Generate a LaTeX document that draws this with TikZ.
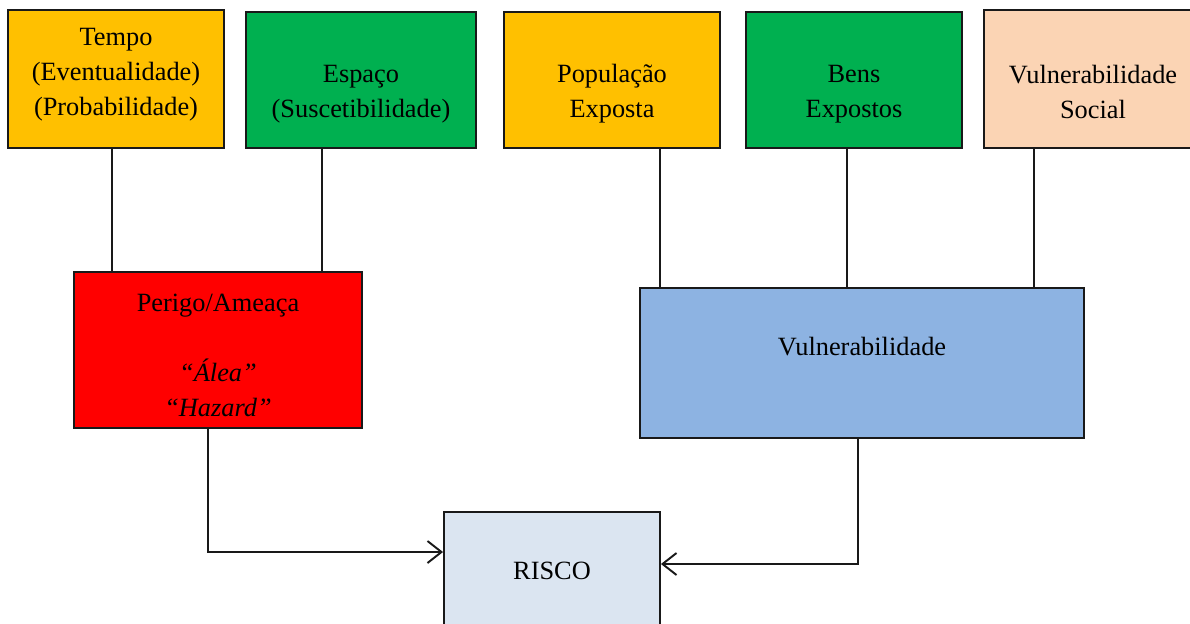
\documentclass[tikz,border=0pt]{standalone}
\usepackage{fontspec}
\setmainfont{Liberation Serif}
\usetikzlibrary{arrows.meta,calc}
\definecolor{ambar}{RGB}{255,192,0}
\definecolor{verde}{RGB}{0,176,80}
\definecolor{pessego}{RGB}{251,212,180}
\definecolor{vermelho}{RGB}{255,0,0}
\definecolor{azul}{RGB}{141,179,226}
\definecolor{azulclaro}{RGB}{219,229,241}
\begin{document}
\begin{tikzpicture}[
    x=0.02cm, y=-0.02cm,
    box/.style={rectangle, draw=black!90, line width=1.1pt, inner sep=0pt},
    txt/.style={align=center, font=\fontsize{15}{19.9}\selectfont, inner sep=0pt},
    liga/.style={draw=black!90, line width=1.1pt},
    seta/.style={liga, -{Straight Barb[length=2.8mm, width=4.4mm, line width=1.1pt]}}
]
    \useasboundingbox (0,0) rectangle (1190,623);

    % Fatores
    \node[box, fill=ambar, minimum width=4.32cm, minimum height=2.76cm] (tempo) at (116,79) {};
    \node[box, fill=verde, minimum width=4.6cm, minimum height=2.72cm] (espaco) at (361,80) {};
    \node[box, fill=ambar, minimum width=4.32cm, minimum height=2.72cm] (populacao) at (612,80) {};
    \node[box, fill=verde, minimum width=4.32cm, minimum height=2.72cm] (bens) at (854,80) {};
    \node[box, fill=pessego, minimum width=4.32cm, minimum height=2.76cm] (social) at (1092,79) {};

    \node[txt] (tempo-txt) at (116,75) {Tempo\\(Eventualidade)\\(Probabilidade)};
    \node[txt] (espaco-txt) at (361,94) {Espaço\\(Suscetibilidade)};
    \node[txt] (populacao-txt) at (612,94) {População\\Exposta};
    \node[txt] (bens-txt) at (854,94) {Bens\\Expostos};
    \node[txt] (social-txt) at (1093,92) {Vulnerabilidade\\Social};

    % Componentes
    \node[box, fill=vermelho, minimum width=5.76cm, minimum height=3.12cm] (perigo) at (218,350) {};
    \node[txt] (perigo-txt) at (218,355) {Perigo/Ameaça\\[19.9pt]\textit{“Álea”}\\\textit{“Hazard”}};
    \node[box, fill=azul, minimum width=8.88cm, minimum height=3cm] (vuln) at (862,363) {};
    \node[txt] (vuln-txt) at (862,347) {Vulnerabilidade};

    % Risco
    \node[box, fill=azulclaro, minimum width=4.32cm, minimum height=2.4cm] (risco) at (552,572) {};
    \node[txt] (risco-txt) at (552,571) {RISCO};

    % Ligacoes
    \draw[liga] ([xshift=-0.08cm]tempo.south) -- ([xshift=-0.08cm]tempo.south |- perigo.north);
    \draw[liga] ([xshift=-0.78cm]espaco.south) -- ([xshift=-0.78cm]espaco.south |- perigo.north);
    \draw[liga] ([xshift=0.96cm]populacao.south) -- ([xshift=0.96cm]populacao.south |- vuln.north);
    \draw[liga] ([xshift=-0.14cm]bens.south) -- ([xshift=-0.14cm]bens.south |- vuln.north);
    \draw[liga] ([xshift=-1.16cm]social.south) -- ([xshift=-1.16cm]social.south |- vuln.north);

    % Setas
    \draw[seta] ([xshift=-0.2cm]perigo.south) |- ([yshift=0.4cm]risco.west);
    \draw[seta] ([xshift=-0.08cm]vuln.south) |- ([yshift=0.16cm]risco.east);
\end{tikzpicture}
\end{document}
